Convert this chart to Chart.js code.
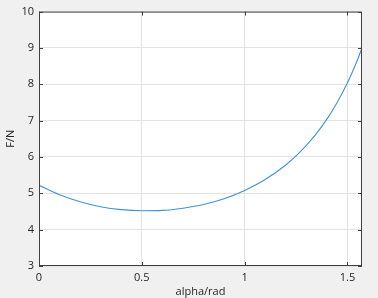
<!DOCTYPE html>
<html>
<head>
<meta charset="utf-8">
<script src="https://cdn.jsdelivr.net/npm/chart.js@4/dist/chart.umd.min.js"></script>
<style>
  html, body { margin: 0; padding: 0; background: #f0f0f0; }
  #wrap { width: 378px; height: 298px; }
</style>
</head>
<body>
<div id="wrap"><canvas id="forceChart" width="378" height="298" aria-label="F over alpha" role="img"></canvas></div>
<script>
// values
const alpha = [0, 0.1, 0.2, 0.3, 0.4, 0.5, 0.6, 0.7, 0.8, 0.9, 1.0, 1.1, 1.2, 1.25, 1.3, 1.35, 1.4, 1.45, 1.5, 1.55, 1.5708];
const force = [5.22, 4.96, 4.77, 4.63, 4.55, 4.52, 4.53, 4.59, 4.69, 4.85, 5.08, 5.38, 5.78, 6.03, 6.32, 6.65, 7.04, 7.50, 8.04, 8.69, 9.0];
const xTicks = [0, 0.5, 1, 1.5];
const yTicks = [3, 4, 5, 6, 7, 8, 9, 10];

const axisColor = "#404040";
const font = { family: "'Open Sans', Arial, sans-serif", size: 11 };

const boxPlugin = {
    id: "box",
    beforeDraw: function (chart) {
        const a = chart.chartArea;
        const ctx = chart.ctx;
        ctx.save();
        ctx.fillStyle = "#f0f0f0";
        ctx.fillRect(0, 0, chart.width, chart.height);
        ctx.fillStyle = "#ffffff";
        ctx.fillRect(a.left, a.top, a.right - a.left, a.bottom - a.top);
        ctx.restore();
    },
    afterDraw: function (chart) {
        const a = chart.chartArea;
        const ctx = chart.ctx;
        const xs = chart.scales.x;
        const ys = chart.scales.y;
        ctx.save();
        ctx.strokeStyle = axisColor;
        ctx.lineWidth = 1;
        ctx.strokeRect(a.left + 0.5, a.top + 0.5, a.right - a.left - 1, a.bottom - a.top - 1);
        ctx.beginPath();
        xTicks.forEach((v) => {
            const px = Math.round(xs.getPixelForValue(v)) + 0.5;
            ctx.moveTo(px, a.bottom);
            ctx.lineTo(px, a.bottom - 4);
            ctx.moveTo(px, a.top);
            ctx.lineTo(px, a.top + 4);
        });
        yTicks.forEach((v) => {
            const py = Math.round(ys.getPixelForValue(v)) + 0.5;
            ctx.moveTo(a.left, py);
            ctx.lineTo(a.left + 4, py);
            ctx.moveTo(a.right, py);
            ctx.lineTo(a.right - 4, py);
        });
        ctx.stroke();
        ctx.restore();
    },
};

new Chart(document.getElementById("forceChart").getContext("2d"), {
    type: "line",
    data: {
        datasets: [
            {
                data: alpha.map((a, i) => ({ x: a, y: force[i] })),
                borderColor: "#3d95d6",
                borderWidth: 1.1,
                pointRadius: 0,
                cubicInterpolationMode: "monotone",
                fill: false,
            },
        ],
    },
    options: {
        responsive: false,
        animation: false,
        layout: { padding: { top: 10, right: 16, left: 0, bottom: 0 } },
        plugins: { legend: { display: false }, tooltip: { enabled: false } },
        scales: {
            x: {
                type: "linear",
                min: 0,
                max: 1.5708,
                afterBuildTicks: function (scale) {
                    scale.ticks = xTicks.map((v) => ({ value: v }));
                },
                afterFit: function (scale) {
                    scale.height = 32;
                },
                ticks: {
                    color: "#262626",
                    font: font,
                    padding: 5,
                    maxRotation: 0,
                    callback: (v) => String(v),
                },
                grid: { color: "#e3e3e3", drawTicks: false },
                border: { display: false },
                title: { display: true, text: "alpha/rad", color: "#262626", font: font, padding: { top: 0, bottom: 0 } },
            },
            y: {
                min: 3,
                max: 10,
                afterBuildTicks: function (scale) {
                    scale.ticks = yTicks.map((v) => ({ value: v }));
                },
                afterFit: function (scale) {
                    scale.width = 39;
                },
                ticks: { color: "#262626", font: font, padding: 5 },
                grid: { color: "#e3e3e3", drawTicks: false },
                border: { display: false },
                title: { display: true, text: "F/N", color: "#262626", font: font, padding: { top: 4, bottom: 0 } },
            },
        },
    },
    plugins: [boxPlugin],
});
</script>
</body>
</html>
